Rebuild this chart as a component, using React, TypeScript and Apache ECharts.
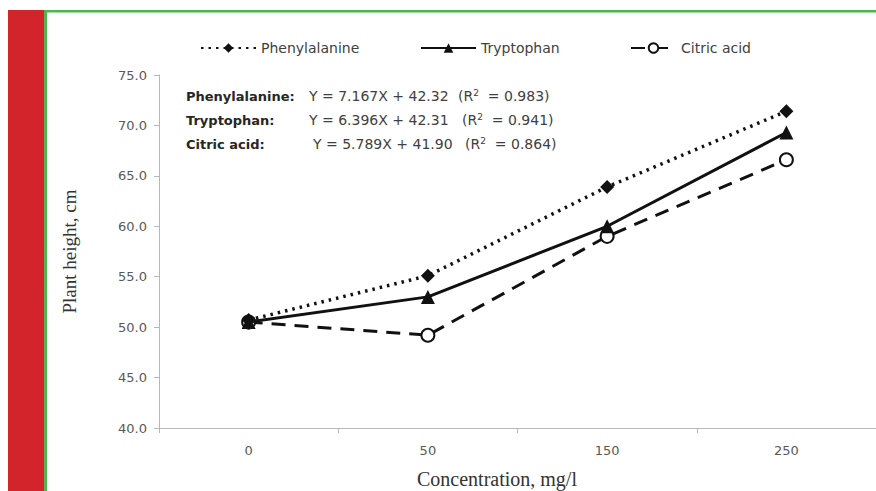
import React, { useEffect, useRef } from "react";
import * as echarts from "echarts";

const categories = ["0", "50", "150", "250"];
const seriesNames = ["Phenylalanine", "Tryptophan", "Citric acid"];
const phenylalanine = [50.7, 55.1, 63.9, 71.4];
const tryptophan = [50.5, 53.0, 60.0, 69.3];
const citricAcid = [50.5, 49.2, 59.0, 66.6];
const yMin = 40;
const yMax = 75;
const yStep = 5;
const equationLabels = ["Phenylalanine:", "Tryptophan:", "Citric acid:"];
const equations = ["Y = 7.167X + 42.32", "Y = 6.396X + 42.31", "Y = 5.789X + 41.90"];
const r2Values = ["0.983", "0.941", "0.864"];
const xAxisTitle = "Concentration, mg/l";
const yAxisTitle = "Plant height, cm";

export default function App() {
  const ref = useRef<HTMLDivElement>(null);
  useEffect(() => {
    if (!ref.current) return;
    const chart = echarts.init(ref.current, undefined, { renderer: "svg" });
    const sans = "DejaVu Sans";
    const serif = "Liberation Serif";
    const eqRows = [96, 120, 144];
    const eqX = [309, 309, 313];
    const r2X = [458, 462, 465];
    const graphics: any[] = [
      { type: "rect", shape: { x: 8, y: 10, width: 36, height: 481 }, style: { fill: "#d3232b" }, silent: true },
      { type: "rect", shape: { x: 44, y: 10, width: 3, height: 481 }, style: { fill: "#4db74f" }, silent: true },
      { type: "rect", shape: { x: 44, y: 10, width: 832, height: 2.5 }, style: { fill: "#4db74f" }, silent: true },
      {
        type: "text",
        x: 497,
        y: 479,
        style: { text: xAxisTitle, font: `20px ${serif}`, fill: "#333", align: "center", verticalAlign: "middle" },
      },
    ];
    equationLabels.forEach((lab, i) => {
      graphics.push({
        type: "text",
        x: 186,
        y: eqRows[i],
        style: { text: lab, font: `bold 13px ${sans}`, fill: "#262626", verticalAlign: "middle" },
      });
      graphics.push({
        type: "text",
        x: eqX[i],
        y: eqRows[i],
        style: { text: equations[i], font: `14px ${sans}`, fill: "#404040", verticalAlign: "middle" },
      });
      graphics.push({
        type: "text",
        x: r2X[i],
        y: eqRows[i],
        style: {
          text: `{n|(R}{s|2}{n|  = ${r2Values[i]})}`,
          verticalAlign: "middle",
          rich: {
            n: { font: `14px ${sans}`, fill: "#404040" },
            s: { font: `9px ${sans}`, fill: "#404040", verticalAlign: "top", padding: [0, 0, 6, 0] },
          },
        },
      });
    });

    const legendBase = {
      top: 36,
      itemHeight: 12,
      textStyle: { fontFamily: sans, fontSize: 14, color: "#404040" },
      selectedMode: false,
    };

    chart.setOption({
      animation: false,
      backgroundColor: "#ffffff",
      graphic: graphics,
      legend: [
        { ...legendBase, left: 195, itemWidth: 55, data: [seriesNames[0]] },
        { ...legendBase, left: 415, itemWidth: 55, data: [seriesNames[1]] },
        { ...legendBase, left: 625, itemWidth: 45, data: [seriesNames[2]] },
      ],
      grid: { left: 159, right: 0, top: 75, bottom: 63, containLabel: false },
      xAxis: {
        type: "category",
        data: categories,
        boundaryGap: true,
        axisLine: { lineStyle: { color: "#b8b8b8", width: 1 } },
        axisTick: { show: true, alignWithLabel: false, length: 5, lineStyle: { color: "#b8b8b8" } },
        axisLabel: { fontFamily: sans, fontSize: 13, color: "#595959", margin: 16 },
        splitLine: { show: false },
      },
      yAxis: {
        type: "value",
        min: yMin,
        max: yMax,
        interval: yStep,
        name: yAxisTitle,
        nameLocation: "middle",
        nameGap: 80,
        nameTextStyle: { fontFamily: serif, fontSize: 19, color: "#333" },
        axisLine: { show: true, lineStyle: { color: "#b8b8b8", width: 1 } },
        axisTick: { show: true, length: 5, lineStyle: { color: "#b8b8b8" } },
        axisLabel: {
          fontFamily: sans,
          fontSize: 13,
          color: "#595959",
          margin: 12,
          formatter: (v: number) => v.toFixed(1),
        },
        splitLine: { show: false },
      },
      series: [
        {
          name: seriesNames[2],
          type: "line",
          data: citricAcid,
          symbol: "circle",
          symbolSize: 13,
          itemStyle: { color: "#ffffff", borderColor: "#111", borderWidth: 2 },
          lineStyle: { color: "#111", width: 3, type: [14, 9] },
          z: 2,
        },
        {
          name: seriesNames[1],
          type: "line",
          data: tryptophan,
          symbol: "triangle",
          symbolSize: 14,
          itemStyle: { color: "#111", borderColor: "#111", borderWidth: 0 },
          lineStyle: { color: "#111", width: 3, type: "solid" },
          z: 3,
        },
        {
          name: seriesNames[0],
          type: "line",
          data: phenylalanine,
          symbol: "diamond",
          symbolSize: 14,
          itemStyle: { color: "#111", borderColor: "#111", borderWidth: 0 },
          lineStyle: { color: "#111", width: 3.5, type: [2.5, 5] },
          z: 4,
        },
      ],
    });
    return () => chart.dispose();
  }, []);
  return (
    <div
      ref={ref}
      style={{ position: "fixed", left: 0, top: 0, width: 876, height: 491, background: "#fff" }}
    />
  );
}
